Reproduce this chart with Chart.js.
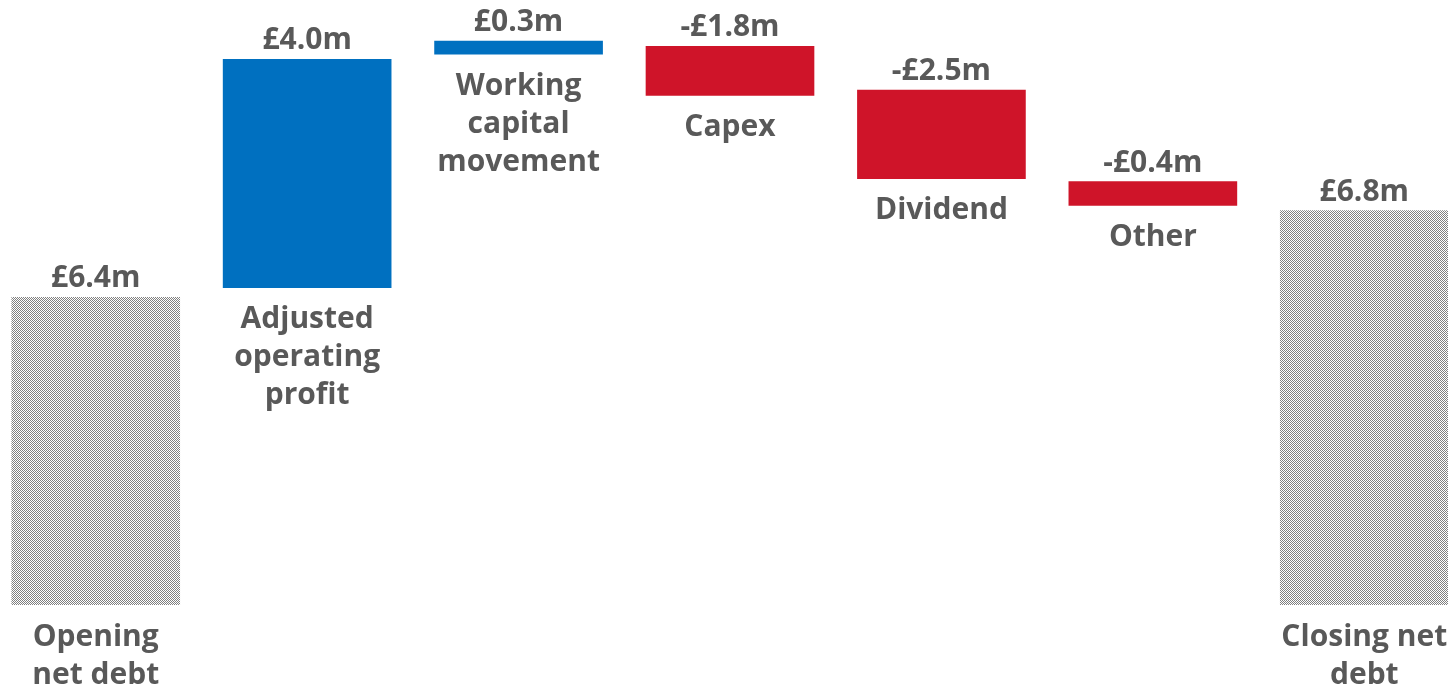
<!DOCTYPE html>
<html>
<head>
<meta charset="utf-8">
<script src="https://cdn.jsdelivr.net/npm/chart.js@4"></script>
<style>
  html, body { margin: 0; padding: 0; background: #fff; overflow: hidden; }
  #wrap { width: 1480px; height: 692px; position: relative; margin-left: -10px; }
</style>
</head>
<body>
<div id="wrap"><canvas id="chart"></canvas></div>
<script>
// Categorias (en lineas, como en la diapositiva)
const categories = [
    ['Opening', 'net debt'],
    ['Adjusted', 'operating', 'profit'],
    ['Working', 'capital', 'movement'],
    ['Capex'],
    ['Dividend'],
    ['Other'],
    ['Closing net', 'debt']
];
// Importes en £m (los que se leen en las etiquetas)
const amounts = [6.4, 4.0, 0.3, -1.8, -2.5, -0.4, 6.8];
// Tipo de barra: total / sube / baja
const kinds = ['total', 'up', 'up', 'down', 'down', 'down', 'total'];
// Tramos dibujados (el original no esta a escala)
const barStart = [0, 5.56, 9.65, 8.93, 7.47, 7.0, 0];
const barEnd = [5.39, 9.56, 9.88, 9.79, 9.02, 7.42, 6.91];

const TEXT = '#595959';
const FONT = 'bold 30px "Open Sans", sans-serif';

function fmt(v) {
    return (v < 0 ? '-' : '') + '£' + Math.abs(v).toFixed(1) + 'm';
}

// Trama de cuadritos gris para los totales
function checker() {
    const c = document.createElement('canvas');
    c.width = 2; c.height = 2;
    const g = c.getContext('2d');
    g.fillStyle = '#ffffff';
    g.fillRect(0, 0, 2, 2);
    g.fillStyle = '#808080';
    g.fillRect(0, 0, 1, 1);
    g.fillRect(1, 1, 1, 1);
    return g.createPattern(c, 'repeat');
}

const ctx = document.getElementById('chart').getContext('2d');
const pattern = checker();
const colors = kinds.map(k => k === 'total' ? pattern : (k === 'up' ? '#0070C0' : '#CF1429'));

// Etiquetas: importe encima y categoria debajo de cada barra
const labelsPlugin = {
    id: 'waterfallLabels',
    afterDatasetsDraw(chart) {
        const c = chart.ctx;
        const meta = chart.getDatasetMeta(0);
        c.save();
        c.font = FONT;
        c.fillStyle = TEXT;
        c.textAlign = 'center';
        meta.data.forEach((bar, i) => {
            const top = Math.min(bar.y, bar.base);
            const bottom = Math.max(bar.y, bar.base);
            c.textBaseline = 'alphabetic';
            c.fillText(fmt(amounts[i]), bar.x, top - 10);
            c.textBaseline = 'middle';
            categories[i].forEach((line, j) => {
                c.fillText(line, bar.x, bottom + 32 + j * 38);
            });
        });
        c.restore();
    }
};

new Chart(ctx, {
    type: 'bar',
    data: {
        labels: categories.map(l => l.join(' ')),
        datasets: [{
            data: barStart.map((s, i) => [s, barEnd[i]]),
            backgroundColor: colors,
            borderWidth: 0,
            barThickness: 168
        }]
    },
    options: {
        responsive: true,
        maintainAspectRatio: false,
        animation: false,
        layout: { padding: { left: 0, right: 0, top: 0, bottom: 87 } },
        plugins: { legend: { display: false }, tooltip: { enabled: false } },
        scales: {
            x: { display: false },
            y: { display: false, min: 0, max: 10.6 }
        }
    },
    plugins: [labelsPlugin]
});
</script>
</body>
</html>
